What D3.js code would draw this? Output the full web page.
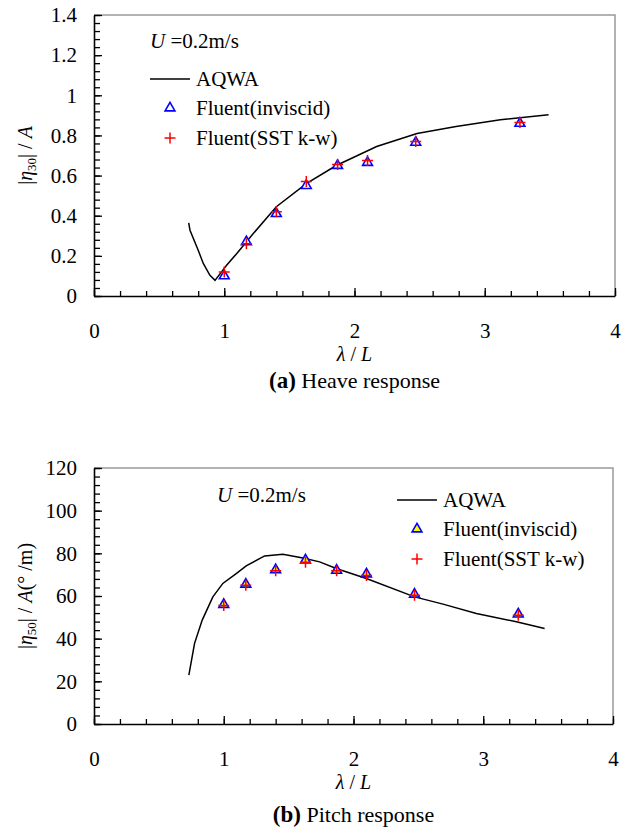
<!DOCTYPE html>
<html>
<head>
<meta charset="utf-8">
<script src="https://cdn.jsdelivr.net/npm/d3@7"></script>
<style>
  body { margin: 0; background: #fff; }
  svg, svg text { font-family: "Liberation Serif", "Times New Roman", Times, serif; fill: #000; }
</style>
</head>
<body>
<div id="chart"></div>
<script>
// wave length ratio where the CFD points were computed
const ratioPts = [1.0, 1.17, 1.4, 1.63, 1.87, 2.1, 2.47, 3.27];

// (a) heave
const heaveLineX = [0.727, 0.737, 0.80, 0.839, 0.89, 0.929, 1.018, 1.095, 1.223, 1.40, 1.63, 1.86, 2.17, 2.48, 2.78, 3.12, 3.49];
const heaveLineY = [0.364, 0.328, 0.228, 0.162, 0.103, 0.078, 0.153, 0.211, 0.311, 0.445, 0.56, 0.65, 0.745, 0.81, 0.845, 0.878, 0.903];
const heaveInviscid = [0.10, 0.27, 0.41, 0.55, 0.65, 0.665, 0.765, 0.86];
const heaveSST = [0.12, 0.26, 0.42, 0.57, 0.655, 0.675, 0.77, 0.865];

// (b) pitch
const pitchLineX = [0.731, 0.775, 0.834, 0.916, 0.993, 1.096, 1.173, 1.315, 1.456, 1.61, 1.739, 1.867, 2.099, 2.471, 2.69, 2.947, 3.255, 3.473];
const pitchLineY = [22.9, 37.8, 48.7, 59.6, 65.9, 70.5, 74.1, 78.8, 79.6, 77.8, 76.0, 72.9, 68.2, 59.6, 56.2, 51.8, 47.9, 44.8];
const pitchInviscid = [56, 65.5, 72.3, 76.8, 72, 70.3, 60.8, 51.5];
const pitchSST = [55.5, 65, 71.8, 75.8, 71.8, 69.6, 60.3, 51.0];

const xTicks = [0, 1, 2, 3, 4];
const heaveTicks = [0, 0.2, 0.4, 0.6, 0.8, 1, 1.2, 1.4];
const pitchTicks = [0, 20, 40, 60, 80, 100, 120];

const FONT = "'Liberation Serif', 'Times New Roman', Times, serif";
const FS = 21;

const svg = d3.select("#chart").append("svg")
    .attr("width", 628)
    .attr("height", 836)
    .attr("font-family", FONT);

function drawPanel(opt) {
    const x = d3.scaleLinear().domain([0, 4]).range([opt.left, opt.right]);
    const y = d3.scaleLinear().domain(opt.yDomain).range([opt.bottom, opt.top]);
    const g = svg.append("g");

    // grey frame top / right
    g.append("path")
        .attr("d", `M${opt.left},${opt.top}H${opt.right}V${opt.bottom}`)
        .attr("fill", "none")
        .attr("stroke", "#999")
        .attr("stroke-width", 1.5);

    // minor ticks
    const xMinor = d3.range(0, 4.001, 0.2).map(d => +d.toFixed(1));
    g.append("g")
        .attr("transform", `translate(0,${opt.bottom})`)
        .call(d3.axisBottom(x).tickValues(xMinor).tickSize(-5).tickFormat(""))
        .call(a => a.select(".domain").remove());
    g.append("g")
        .attr("transform", `translate(${opt.left},0)`)
        .call(d3.axisLeft(y).tickValues(opt.yMinor).tickSize(-6).tickFormat(""))
        .call(a => a.select(".domain").remove());

    // major axes
    const xAxis = g.append("g")
        .attr("transform", `translate(0,${opt.bottom})`)
        .call(d3.axisBottom(x).tickValues(xTicks).tickSize(-8).tickSizeOuter(0).tickPadding(27).tickFormat(d3.format("")));
    const yAxis = g.append("g")
        .attr("transform", `translate(${opt.left},0)`)
        .call(d3.axisLeft(y).tickValues(opt.yTicks).tickSize(-8).tickSizeOuter(0).tickPadding(17).tickFormat(d3.format("")));
    [xAxis, yAxis].forEach(a => {
        a.selectAll("line").attr("stroke", "#000");
        a.select(".domain").attr("stroke", "#000").attr("stroke-width", 1.6);
    });
    g.selectAll("g").attr("font-family", FONT).attr("font-size", FS);
    g.selectAll("line").attr("stroke-width", 1.3);

    // AQWA line
    const line = d3.line().x(d => x(d[0])).y(d => y(d[1]));
    g.append("path")
        .datum(opt.lineX.map((v, i) => [v, opt.lineY[i]]))
        .attr("d", line)
        .attr("fill", "none")
        .attr("stroke", "#000")
        .attr("stroke-width", 1.5);

    const tri = d3.symbol().type(d3.symbolTriangle).size(42);
    g.selectAll(".tri")
        .data(ratioPts.map((v, i) => [v, opt.inviscid[i]]))
        .join("path")
        .attr("transform", d => `translate(${x(d[0])},${y(d[1])})`)
        .attr("d", tri)
        .attr("fill", opt.triFill)
        .attr("stroke", "#0000ff")
        .attr("stroke-width", 1.6);

    const plus = "M-5.5,0H5.5M0,-5.5V5.5";
    g.selectAll(".plus")
        .data(ratioPts.map((v, i) => [v, opt.sst[i]]))
        .join("path")
        .attr("transform", d => `translate(${x(d[0])},${y(d[1])})`)
        .attr("d", plus)
        .attr("stroke", "#ff0000")
        .attr("stroke-width", 1.5);

    // speed label
    const u = g.append("text")
        .attr("x", opt.uPos[0]).attr("y", opt.uPos[1])
        .attr("font-size", FS);
    u.append("tspan").attr("font-style", "italic").text("U");
    u.append("tspan").text(" =0.2m/s");

    // legend
    const lx = opt.legend[0], ly = opt.legend[1];
    g.append("line")
        .attr("x1", lx).attr("x2", lx + 40)
        .attr("y1", ly).attr("y2", ly)
        .attr("stroke", "#000").attr("stroke-width", 1.5);
    g.append("text").attr("x", lx + 46).attr("y", ly + 7).attr("font-size", FS).text("AQWA");
    g.append("path")
        .attr("transform", `translate(${lx + 20},${ly + 29})`)
        .attr("d", tri)
        .attr("fill", opt.triFill)
        .attr("stroke", "#0000ff")
        .attr("stroke-width", 1.6);
    g.append("text").attr("x", lx + 46).attr("y", ly + 36).attr("font-size", FS).text("Fluent(inviscid)");
    g.append("path")
        .attr("transform", `translate(${lx + 20},${ly + 59})`)
        .attr("d", plus)
        .attr("stroke", "#ff0000")
        .attr("stroke-width", 1.5);
    g.append("text").attr("x", lx + 46).attr("y", ly + 66).attr("font-size", FS).text("Fluent(SST k-w)");

    // y title
    const cy = (opt.top + opt.bottom) / 2;
    const yt = g.append("text")
        .attr("transform", `translate(32,${cy}) rotate(-90)`)
        .attr("text-anchor", "middle")
        .attr("font-size", 20);
    yt.append("tspan").text("|");
    yt.append("tspan").attr("font-style", "italic").text("η");
    yt.append("tspan").attr("dy", 4).attr("font-size", 13).text(opt.sub);
    yt.append("tspan").attr("dy", -4).text("| / ");
    yt.append("tspan").attr("font-style", "italic").text("A");
    if (opt.unit) yt.append("tspan").text(opt.unit);

    // x title
    const xt = g.append("text")
        .attr("x", x(2)).attr("y", opt.bottom + 65)
        .attr("text-anchor", "middle")
        .attr("font-size", 20);
    xt.append("tspan").attr("font-style", "italic").text("λ");
    xt.append("tspan").text(" / ");
    xt.append("tspan").attr("font-style", "italic").text("L");

    // caption
    const cap = g.append("text")
        .attr("x", x(2)).attr("y", opt.bottom + opt.capGap)
        .attr("text-anchor", "middle")
        .attr("font-size", 22);
    cap.append("tspan").attr("font-weight", "bold").attr("font-size", 23).text(opt.capTag);
    cap.append("tspan").text(" " + opt.capText);
}

drawPanel({
    left: 94, right: 615, top: 15, bottom: 296,
    yDomain: [0, 1.4], yTicks: heaveTicks,
    yMinor: d3.range(0, 1.4001, 0.04).map(d => +d.toFixed(2)),
    lineX: heaveLineX, lineY: heaveLineY,
    inviscid: heaveInviscid, sst: heaveSST,
    triFill: "#fff",
    uPos: [150, 48], legend: [150, 79],
    sub: "30", unit: "",
    capGap: 92, capTag: "(a)", capText: "Heave response"
});

drawPanel({
    left: 94, right: 613, top: 468, bottom: 724,
    yDomain: [0, 120], yTicks: pitchTicks,
    yMinor: d3.range(0, 120.001, 4),
    lineX: pitchLineX, lineY: pitchLineY,
    inviscid: pitchInviscid, sst: pitchSST,
    triFill: "#ffff00",
    uPos: [217, 502], legend: [397, 500],
    sub: "50", unit: "(° /m)",
    capGap: 98, capTag: "(b)", capText: "Pitch response"
});
</script>
</body>
</html>
